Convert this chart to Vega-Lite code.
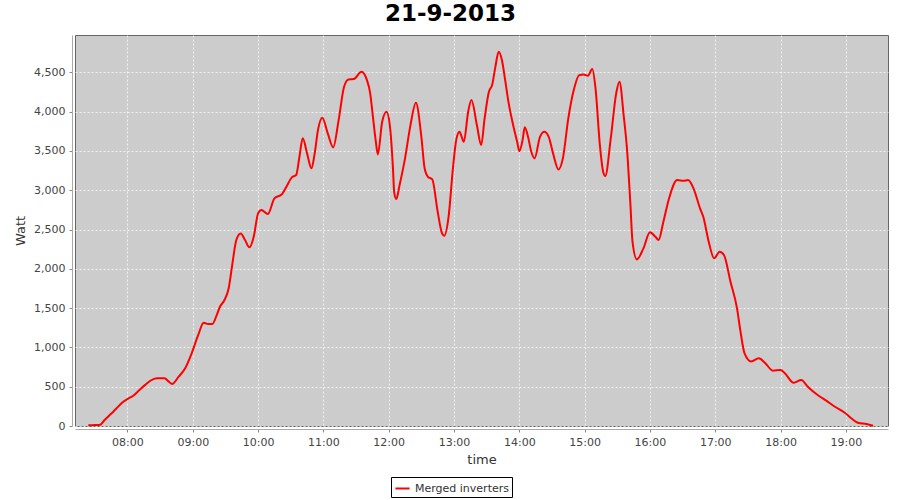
{
  "$schema": "https://vega.github.io/schema/vega-lite/v6.json",
  "width": 813,
  "height": 391,
  "autosize": {"type": "none"},
  "padding": {"left": 75, "top": 35, "right": 12, "bottom": 74},
  "background": "#ffffff",
  "title": {
    "text": "21-9-2013",
    "font": "DejaVu Sans",
    "fontSize": 23,
    "fontWeight": "bold",
    "color": "#000000",
    "anchor": "middle",
    "offset": 9,
    "dx": -31
  },
  "config": {
    "view": {"fill": "#cccccc", "stroke": "#666666", "strokeWidth": 1},
    "axis": {
      "labelFont": "DejaVu Sans",
      "labelFontSize": 11,
      "labelColor": "#444444",
      "titleFont": "DejaVu Sans",
      "titleFontSize": 13,
      "titleFontWeight": "normal",
      "titleColor": "#333333",
      "domainColor": "#aaaaaa",
      "tickColor": "#888888",
      "tickSize": 3,
      "gridColor": "#ffffff",
      "gridDash": [2, 2],
      "gridWidth": 0.8,
      "gridOpacity": 0.9
    }
  },
  "data": {
    "values": [
      {"time": "2013-09-21T07:24:00Z", "watt": 8, "series": "Merged inverters"},
      {"time": "2013-09-21T07:30:00Z", "watt": 12, "series": "Merged inverters"},
      {"time": "2013-09-21T07:35:00Z", "watt": 17, "series": "Merged inverters"},
      {"time": "2013-09-21T07:39:00Z", "watt": 76, "series": "Merged inverters"},
      {"time": "2013-09-21T07:43:00Z", "watt": 130, "series": "Merged inverters"},
      {"time": "2013-09-21T07:47:00Z", "watt": 182, "series": "Merged inverters"},
      {"time": "2013-09-21T07:51:00Z", "watt": 240, "series": "Merged inverters"},
      {"time": "2013-09-21T07:55:00Z", "watt": 296, "series": "Merged inverters"},
      {"time": "2013-09-21T08:01:00Z", "watt": 352, "series": "Merged inverters"},
      {"time": "2013-09-21T08:05:00Z", "watt": 382, "series": "Merged inverters"},
      {"time": "2013-09-21T08:11:00Z", "watt": 458, "series": "Merged inverters"},
      {"time": "2013-09-21T08:16:00Z", "watt": 520, "series": "Merged inverters"},
      {"time": "2013-09-21T08:21:00Z", "watt": 576, "series": "Merged inverters"},
      {"time": "2013-09-21T08:27:00Z", "watt": 607, "series": "Merged inverters"},
      {"time": "2013-09-21T08:34:00Z", "watt": 607, "series": "Merged inverters"},
      {"time": "2013-09-21T08:38:00Z", "watt": 564, "series": "Merged inverters"},
      {"time": "2013-09-21T08:41:00Z", "watt": 534, "series": "Merged inverters"},
      {"time": "2013-09-21T08:47:00Z", "watt": 627, "series": "Merged inverters"},
      {"time": "2013-09-21T08:53:00Z", "watt": 734, "series": "Merged inverters"},
      {"time": "2013-09-21T08:59:00Z", "watt": 925, "series": "Merged inverters"},
      {"time": "2013-09-21T09:05:00Z", "watt": 1158, "series": "Merged inverters"},
      {"time": "2013-09-21T09:10:00Z", "watt": 1314, "series": "Merged inverters"},
      {"time": "2013-09-21T09:14:00Z", "watt": 1297, "series": "Merged inverters"},
      {"time": "2013-09-21T09:18:00Z", "watt": 1297, "series": "Merged inverters"},
      {"time": "2013-09-21T09:22:00Z", "watt": 1412, "series": "Merged inverters"},
      {"time": "2013-09-21T09:25:00Z", "watt": 1518, "series": "Merged inverters"},
      {"time": "2013-09-21T09:29:00Z", "watt": 1600, "series": "Merged inverters"},
      {"time": "2013-09-21T09:33:00Z", "watt": 1752, "series": "Merged inverters"},
      {"time": "2013-09-21T09:36:00Z", "watt": 2026, "series": "Merged inverters"},
      {"time": "2013-09-21T09:40:00Z", "watt": 2366, "series": "Merged inverters"},
      {"time": "2013-09-21T09:44:00Z", "watt": 2450, "series": "Merged inverters"},
      {"time": "2013-09-21T09:48:00Z", "watt": 2366, "series": "Merged inverters"},
      {"time": "2013-09-21T09:52:00Z", "watt": 2273, "series": "Merged inverters"},
      {"time": "2013-09-21T09:56:00Z", "watt": 2408, "series": "Merged inverters"},
      {"time": "2013-09-21T10:00:00Z", "watt": 2706, "series": "Merged inverters"},
      {"time": "2013-09-21T10:03:00Z", "watt": 2748, "series": "Merged inverters"},
      {"time": "2013-09-21T10:09:00Z", "watt": 2697, "series": "Merged inverters"},
      {"time": "2013-09-21T10:15:00Z", "watt": 2896, "series": "Merged inverters"},
      {"time": "2013-09-21T10:22:00Z", "watt": 2951, "series": "Merged inverters"},
      {"time": "2013-09-21T10:26:00Z", "watt": 3044, "series": "Merged inverters"},
      {"time": "2013-09-21T10:31:00Z", "watt": 3164, "series": "Merged inverters"},
      {"time": "2013-09-21T10:35:00Z", "watt": 3193, "series": "Merged inverters"},
      {"time": "2013-09-21T10:38:00Z", "watt": 3426, "series": "Merged inverters"},
      {"time": "2013-09-21T10:41:00Z", "watt": 3660, "series": "Merged inverters"},
      {"time": "2013-09-21T10:45:00Z", "watt": 3469, "series": "Merged inverters"},
      {"time": "2013-09-21T10:49:00Z", "watt": 3278, "series": "Merged inverters"},
      {"time": "2013-09-21T10:52:00Z", "watt": 3469, "series": "Merged inverters"},
      {"time": "2013-09-21T10:55:00Z", "watt": 3765, "series": "Merged inverters"},
      {"time": "2013-09-21T10:59:00Z", "watt": 3922, "series": "Merged inverters"},
      {"time": "2013-09-21T11:04:00Z", "watt": 3723, "series": "Merged inverters"},
      {"time": "2013-09-21T11:09:00Z", "watt": 3545, "series": "Merged inverters"},
      {"time": "2013-09-21T11:14:00Z", "watt": 3892, "series": "Merged inverters"},
      {"time": "2013-09-21T11:19:00Z", "watt": 4316, "series": "Merged inverters"},
      {"time": "2013-09-21T11:23:00Z", "watt": 4410, "series": "Merged inverters"},
      {"time": "2013-09-21T11:28:00Z", "watt": 4415, "series": "Merged inverters"},
      {"time": "2013-09-21T11:35:00Z", "watt": 4507, "series": "Merged inverters"},
      {"time": "2013-09-21T11:40:00Z", "watt": 4401, "series": "Merged inverters"},
      {"time": "2013-09-21T11:43:00Z", "watt": 4232, "series": "Merged inverters"},
      {"time": "2013-09-21T11:45:00Z", "watt": 3998, "series": "Merged inverters"},
      {"time": "2013-09-21T11:48:00Z", "watt": 3638, "series": "Merged inverters"},
      {"time": "2013-09-21T11:50:00Z", "watt": 3456, "series": "Merged inverters"},
      {"time": "2013-09-21T11:54:00Z", "watt": 3871, "series": "Merged inverters"},
      {"time": "2013-09-21T11:58:00Z", "watt": 3998, "series": "Merged inverters"},
      {"time": "2013-09-21T12:01:00Z", "watt": 3829, "series": "Merged inverters"},
      {"time": "2013-09-21T12:04:00Z", "watt": 3256, "series": "Merged inverters"},
      {"time": "2013-09-21T12:05:00Z", "watt": 2980, "series": "Merged inverters"},
      {"time": "2013-09-21T12:07:00Z", "watt": 2888, "series": "Merged inverters"},
      {"time": "2013-09-21T12:10:00Z", "watt": 3066, "series": "Merged inverters"},
      {"time": "2013-09-21T12:15:00Z", "watt": 3405, "series": "Merged inverters"},
      {"time": "2013-09-21T12:20:00Z", "watt": 3829, "series": "Merged inverters"},
      {"time": "2013-09-21T12:25:00Z", "watt": 4112, "series": "Merged inverters"},
      {"time": "2013-09-21T12:30:00Z", "watt": 3680, "series": "Merged inverters"},
      {"time": "2013-09-21T12:33:00Z", "watt": 3278, "series": "Merged inverters"},
      {"time": "2013-09-21T12:36:00Z", "watt": 3171, "series": "Merged inverters"},
      {"time": "2013-09-21T12:40:00Z", "watt": 3138, "series": "Merged inverters"},
      {"time": "2013-09-21T12:45:00Z", "watt": 2726, "series": "Merged inverters"},
      {"time": "2013-09-21T12:49:00Z", "watt": 2451, "series": "Merged inverters"},
      {"time": "2013-09-21T12:51:00Z", "watt": 2421, "series": "Merged inverters"},
      {"time": "2013-09-21T12:55:00Z", "watt": 2662, "series": "Merged inverters"},
      {"time": "2013-09-21T12:59:00Z", "watt": 3278, "series": "Merged inverters"},
      {"time": "2013-09-21T13:02:00Z", "watt": 3638, "series": "Merged inverters"},
      {"time": "2013-09-21T13:05:00Z", "watt": 3744, "series": "Merged inverters"},
      {"time": "2013-09-21T13:09:00Z", "watt": 3616, "series": "Merged inverters"},
      {"time": "2013-09-21T13:13:00Z", "watt": 3998, "series": "Merged inverters"},
      {"time": "2013-09-21T13:16:00Z", "watt": 4147, "series": "Merged inverters"},
      {"time": "2013-09-21T13:21:00Z", "watt": 3829, "series": "Merged inverters"},
      {"time": "2013-09-21T13:25:00Z", "watt": 3574, "series": "Merged inverters"},
      {"time": "2013-09-21T13:28:00Z", "watt": 3900, "series": "Merged inverters"},
      {"time": "2013-09-21T13:32:00Z", "watt": 4250, "series": "Merged inverters"},
      {"time": "2013-09-21T13:35:00Z", "watt": 4338, "series": "Merged inverters"},
      {"time": "2013-09-21T13:38:00Z", "watt": 4570, "series": "Merged inverters"},
      {"time": "2013-09-21T13:41:00Z", "watt": 4761, "series": "Merged inverters"},
      {"time": "2013-09-21T13:44:00Z", "watt": 4656, "series": "Merged inverters"},
      {"time": "2013-09-21T13:47:00Z", "watt": 4401, "series": "Merged inverters"},
      {"time": "2013-09-21T13:50:00Z", "watt": 4125, "series": "Merged inverters"},
      {"time": "2013-09-21T13:54:00Z", "watt": 3850, "series": "Merged inverters"},
      {"time": "2013-09-21T13:58:00Z", "watt": 3616, "series": "Merged inverters"},
      {"time": "2013-09-21T14:00:00Z", "watt": 3498, "series": "Merged inverters"},
      {"time": "2013-09-21T14:03:00Z", "watt": 3638, "series": "Merged inverters"},
      {"time": "2013-09-21T14:05:00Z", "watt": 3800, "series": "Merged inverters"},
      {"time": "2013-09-21T14:08:00Z", "watt": 3680, "series": "Merged inverters"},
      {"time": "2013-09-21T14:11:00Z", "watt": 3489, "series": "Merged inverters"},
      {"time": "2013-09-21T14:14:00Z", "watt": 3405, "series": "Merged inverters"},
      {"time": "2013-09-21T14:19:00Z", "watt": 3680, "series": "Merged inverters"},
      {"time": "2013-09-21T14:23:00Z", "watt": 3744, "series": "Merged inverters"},
      {"time": "2013-09-21T14:27:00Z", "watt": 3680, "series": "Merged inverters"},
      {"time": "2013-09-21T14:31:00Z", "watt": 3469, "series": "Merged inverters"},
      {"time": "2013-09-21T14:36:00Z", "watt": 3265, "series": "Merged inverters"},
      {"time": "2013-09-21T14:40:00Z", "watt": 3405, "series": "Merged inverters"},
      {"time": "2013-09-21T14:45:00Z", "watt": 3914, "series": "Merged inverters"},
      {"time": "2013-09-21T14:50:00Z", "watt": 4274, "series": "Merged inverters"},
      {"time": "2013-09-21T14:55:00Z", "watt": 4465, "series": "Merged inverters"},
      {"time": "2013-09-21T14:59:00Z", "watt": 4474, "series": "Merged inverters"},
      {"time": "2013-09-21T15:03:00Z", "watt": 4456, "series": "Merged inverters"},
      {"time": "2013-09-21T15:07:00Z", "watt": 4541, "series": "Merged inverters"},
      {"time": "2013-09-21T15:10:00Z", "watt": 4296, "series": "Merged inverters"},
      {"time": "2013-09-21T15:14:00Z", "watt": 3574, "series": "Merged inverters"},
      {"time": "2013-09-21T15:17:00Z", "watt": 3235, "series": "Merged inverters"},
      {"time": "2013-09-21T15:19:00Z", "watt": 3180, "series": "Merged inverters"},
      {"time": "2013-09-21T15:24:00Z", "watt": 3660, "series": "Merged inverters"},
      {"time": "2013-09-21T15:29:00Z", "watt": 4232, "series": "Merged inverters"},
      {"time": "2013-09-21T15:32:00Z", "watt": 4380, "series": "Merged inverters"},
      {"time": "2013-09-21T15:36:00Z", "watt": 3934, "series": "Merged inverters"},
      {"time": "2013-09-21T15:39:00Z", "watt": 3511, "series": "Merged inverters"},
      {"time": "2013-09-21T15:42:00Z", "watt": 2833, "series": "Merged inverters"},
      {"time": "2013-09-21T15:44:00Z", "watt": 2344, "series": "Merged inverters"},
      {"time": "2013-09-21T15:48:00Z", "watt": 2120, "series": "Merged inverters"},
      {"time": "2013-09-21T15:54:00Z", "watt": 2260, "series": "Merged inverters"},
      {"time": "2013-09-21T16:00:00Z", "watt": 2464, "series": "Merged inverters"},
      {"time": "2013-09-21T16:05:00Z", "watt": 2408, "series": "Merged inverters"},
      {"time": "2013-09-21T16:08:00Z", "watt": 2366, "series": "Merged inverters"},
      {"time": "2013-09-21T16:12:00Z", "watt": 2578, "series": "Merged inverters"},
      {"time": "2013-09-21T16:18:00Z", "watt": 2917, "series": "Merged inverters"},
      {"time": "2013-09-21T16:25:00Z", "watt": 3129, "series": "Merged inverters"},
      {"time": "2013-09-21T16:31:00Z", "watt": 3120, "series": "Merged inverters"},
      {"time": "2013-09-21T16:35:00Z", "watt": 3129, "series": "Merged inverters"},
      {"time": "2013-09-21T16:40:00Z", "watt": 3024, "series": "Merged inverters"},
      {"time": "2013-09-21T16:46:00Z", "watt": 2769, "series": "Merged inverters"},
      {"time": "2013-09-21T16:49:00Z", "watt": 2662, "series": "Merged inverters"},
      {"time": "2013-09-21T16:54:00Z", "watt": 2344, "series": "Merged inverters"},
      {"time": "2013-09-21T16:59:00Z", "watt": 2133, "series": "Merged inverters"},
      {"time": "2013-09-21T17:04:00Z", "watt": 2217, "series": "Merged inverters"},
      {"time": "2013-09-21T17:08:00Z", "watt": 2175, "series": "Merged inverters"},
      {"time": "2013-09-21T17:14:00Z", "watt": 1836, "series": "Merged inverters"},
      {"time": "2013-09-21T17:20:00Z", "watt": 1497, "series": "Merged inverters"},
      {"time": "2013-09-21T17:23:00Z", "watt": 1220, "series": "Merged inverters"},
      {"time": "2013-09-21T17:27:00Z", "watt": 920, "series": "Merged inverters"},
      {"time": "2013-09-21T17:33:00Z", "watt": 820, "series": "Merged inverters"},
      {"time": "2013-09-21T17:40:00Z", "watt": 861, "series": "Merged inverters"},
      {"time": "2013-09-21T17:46:00Z", "watt": 798, "series": "Merged inverters"},
      {"time": "2013-09-21T17:53:00Z", "watt": 704, "series": "Merged inverters"},
      {"time": "2013-09-21T18:00:00Z", "watt": 712, "series": "Merged inverters"},
      {"time": "2013-09-21T18:04:00Z", "watt": 670, "series": "Merged inverters"},
      {"time": "2013-09-21T18:12:00Z", "watt": 551, "series": "Merged inverters"},
      {"time": "2013-09-21T18:19:00Z", "watt": 585, "series": "Merged inverters"},
      {"time": "2013-09-21T18:25:00Z", "watt": 500, "series": "Merged inverters"},
      {"time": "2013-09-21T18:35:00Z", "watt": 385, "series": "Merged inverters"},
      {"time": "2013-09-21T18:42:00Z", "watt": 322, "series": "Merged inverters"},
      {"time": "2013-09-21T18:50:00Z", "watt": 245, "series": "Merged inverters"},
      {"time": "2013-09-21T18:59:00Z", "watt": 169, "series": "Merged inverters"},
      {"time": "2013-09-21T19:05:00Z", "watt": 98, "series": "Merged inverters"},
      {"time": "2013-09-21T19:11:00Z", "watt": 42, "series": "Merged inverters"},
      {"time": "2013-09-21T19:19:00Z", "watt": 25, "series": "Merged inverters"},
      {"time": "2013-09-21T19:25:00Z", "watt": 4, "series": "Merged inverters"}
    ]
  },
  "mark": {"type": "line", "strokeWidth": 2, "interpolate": "monotone"},
  "encoding": {
    "x": {
      "field": "time",
      "type": "temporal",
      "title": "time",
      "scale": {
        "type": "utc",
        "domain": [1379747508000, 1379792322000]
      },
      "axis": {
        "format": "%H:%M",
        "values": [1379750400000, 1379754000000, 1379757600000, 1379761200000, 1379764800000, 1379768400000, 1379772000000, 1379775600000, 1379779200000, 1379782800000, 1379786400000, 1379790000000],
        "offset": 3,
        "labelPadding": 4,
        "titlePadding": 6,
        "labelFlush": false,
        "labelOverlap": false
      }
    },
    "y": {
      "field": "watt",
      "type": "quantitative",
      "title": "Watt",
      "scale": {"domain": [0, 4975], "nice": false, "zero": true},
      "axis": {
        "values": [0, 500, 1000, 1500, 2000, 2500, 3000, 3500, 4000, 4500],
        "format": ",d",
        "offset": 3,
        "labelPadding": 4,
        "titlePadding": 6
      }
    },
    "color": {
      "field": "series",
      "type": "nominal",
      "scale": {"range": ["#ff0000"]},
      "legend": {
        "title": null,
        "orient": "none",
        "legendX": 316,
        "legendY": 442,
        "symbolType": "stroke",
        "symbolSize": 200,
        "symbolStrokeWidth": 2,
        "labelFont": "DejaVu Sans",
        "labelFontSize": 11,
        "labelColor": "#333333",
        "strokeColor": "#000000",
        "fillColor": "#ffffff",
        "padding": 3
      }
    }
  }
}
